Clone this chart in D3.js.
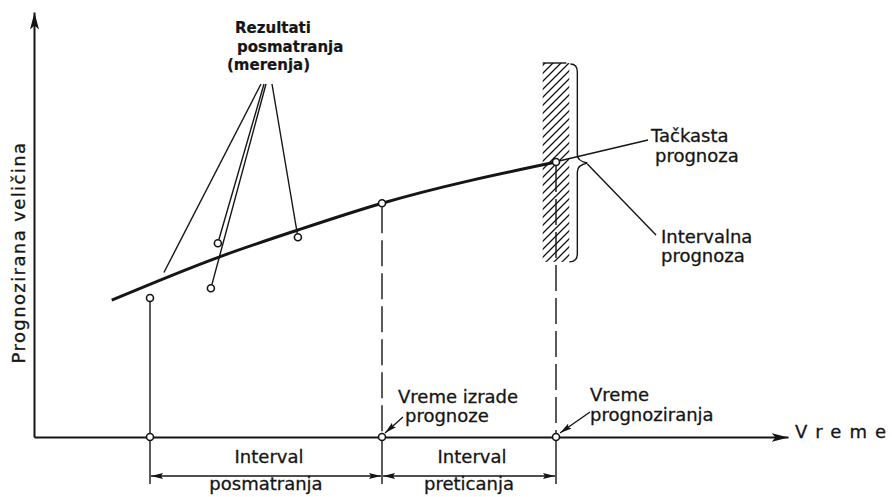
<!DOCTYPE html>
<meta charset="utf-8">
<style>
body { margin: 0; background: #fff; }
text { font-family: "DejaVu Sans", sans-serif; font-size: 18px; fill: #151515; stroke: #151515; stroke-width: 0.3; }
.bold { font-weight: bold; font-size: 15px; stroke-width: 0.2; }
.axis path { stroke: #151515; stroke-width: 2; }
.curve { fill: none; stroke: #151515; stroke-width: 3; }
.thin { fill: none; stroke: #151515; stroke-width: 1.4; }
.dot { fill: #fff; stroke: #151515; stroke-width: 1.6; }
</style>
<svg width="892" height="497"></svg>
<script src="https://cdn.jsdelivr.net/npm/d3@7/dist/d3.min.js"></script>
<script>

// time units: 0 = start of observation, 4 = forecast made, 7 = forecasted moment
var curveTime  = [-0.66, 1.2, 2.55, 4, 7];
var curveValue = [3.22, 4.24, 4.87, 5.5, 6.47];

var obsTime  = [0, 1.05, 1.17, 2.55];
var obsValue = [3.27, 3.5, 4.56, 4.7];

var keyTime = [0, 4, 7];
var bandValue = [4.12, 8.8];   // interval forecast
var bandHalf = 0.23;

// where the "Rezultati posmatranja" pointers go
var pointerTime  = [0.24, 1.17, 1.05, 2.55];
var pointerValue = [3.87, 4.56, 3.5, 4.7];

var intervalNames = [["Interval", "posmatranja"], ["Interval", "preticanja"]];

var svg = d3.select("svg");

var x = d3.scaleLinear().domain([-2, 11]).range([34, 788]);
var y = d3.scaleLinear().domain([0, 10]).range([437, 12]);

var defs = svg.append("defs");
function marker(id, path, w, h, refX) {
  defs.append("marker")
      .attr("id", id)
      .attr("markerUnits", "userSpaceOnUse")
      .attr("viewBox", "0 " + (-h) + " " + w + " " + (2 * h))
      .attr("markerWidth", w).attr("markerHeight", 2 * h)
      .attr("refX", refX).attr("refY", 0)
      .attr("orient", "auto-start-reverse")
    .append("path").attr("d", path).attr("fill", "#151515");
}
marker("big", "M0,-4.5L17,0L0,4.5L4,0Z", 17, 4.5, 17);
marker("small", "M0,-3L12,0L0,3L2,0Z", 12, 3, 12);

defs.append("pattern")
    .attr("id", "hatch")
    .attr("patternUnits", "userSpaceOnUse")
    .attr("width", 8).attr("height", 8)
  .append("path")
    .attr("d", "M-2,2L2,-2M0,8L8,0M6,10L10,6")
    .attr("stroke", "#151515").attr("stroke-width", 1.3);

// axes (no ticks, just the domain line with an arrow)
svg.append("g").attr("class", "axis")
    .attr("transform", "translate(0," + y(0) + ")")
    .call(d3.axisBottom(x).tickValues([]).tickSizeOuter(0))
    .select(".domain").attr("marker-end", "url(#big)");
svg.append("g").attr("class", "axis")
    .attr("transform", "translate(" + x(-2) + ",0)")
    .call(d3.axisLeft(y).tickValues([]).tickSizeOuter(0))
    .select(".domain").attr("marker-end", "url(#big)");

svg.append("text").attr("x", 795).attr("y", 438)
    .attr("textLength", 91).attr("lengthAdjust", "spacing")
    .text("Vreme");
svg.append("text")
    .attr("transform", "translate(25," + ((y(0) + y(10)) / 2 + 28) + ") rotate(-90)")
    .attr("text-anchor", "middle")
    .style("letter-spacing", "1.4px")
    .text("Prognozirana veličina");

// interval forecast band
var bx0 = x(7 - bandHalf), bx1 = x(7 + bandHalf);
var by0 = y(bandValue[1]), by1 = y(bandValue[0]);
svg.append("rect")
    .attr("x", bx0).attr("y", by0)
    .attr("width", bx1 - bx0).attr("height", by1 - by0)
    .attr("fill", "url(#hatch)");
svg.append("line").attr("class", "thin")
    .attr("x1", bx0).attr("x2", bx1 - 3).attr("y1", by0).attr("y2", by0);

// brace
var xb = bx1 + 8, ym = y(6.47);
svg.append("path").attr("class", "thin")
    .attr("d", "M" + (xb - 7) + "," + (by0 + 1) +
      "Q" + xb + "," + (by0 + 1) + " " + xb + "," + (by0 + 9) +
      "L" + xb + "," + (ym - 7) +
      "Q" + xb + "," + (ym - 1) + " " + (xb + 10) + "," + (ym + 1) +
      "Q" + xb + "," + (ym + 3) + " " + xb + "," + (ym + 10) +
      "L" + xb + "," + (by1 - 8) +
      "Q" + xb + "," + by1 + " " + (xb - 8) + "," + by1);

// verticals from the key times
keyTime.forEach(function(t, i) {
  var top = i == 0 ? obsValue[0] : curveValue[curveTime.indexOf(t)];
  svg.append("line").attr("class", "thin")
      .attr("x1", x(t)).attr("x2", x(t))
      .attr("y1", y(top) + 4).attr("y2", y(0))
      .attr("stroke-dasharray", i == 0 ? null : "26,7");
  svg.append("line").attr("class", "thin")
      .attr("x1", x(t)).attr("x2", x(t))
      .attr("y1", y(0)).attr("y2", y(0) + 47);
});

// forecast curve
var line = d3.line()
    .x(function(d) { return x(d[0]); })
    .y(function(d) { return y(d[1]); })
    .curve(d3.curveMonotoneX);
svg.append("path").attr("class", "curve")
    .attr("d", line(d3.zip(curveTime, curveValue)));

// pointers from "Rezultati posmatranja"
var pStart = [[261, 84], [264, 84], [266, 84], [272, 84]];
pointerTime.forEach(function(t, i) {
  var ex = x(t), ey = y(pointerValue[i]);
  var dx = ex - pStart[i][0], dy = ey - pStart[i][1], len = Math.sqrt(dx * dx + dy * dy);
  var cut = i == 0 ? 0 : 3.8;
  svg.append("line").attr("class", "thin")
      .attr("x1", pStart[i][0]).attr("y1", pStart[i][1])
      .attr("x2", ex - dx / len * cut).attr("y2", ey - dy / len * cut);
});

// point forecast / interval forecast pointers
svg.append("line").attr("class", "thin")
    .attr("x1", x(7) + 3).attr("y1", y(6.47) - 1)
    .attr("x2", 648).attr("y2", 140);
svg.append("line").attr("class", "thin")
    .attr("x1", xb + 10).attr("y1", ym + 2)
    .attr("x2", 656).attr("y2", 235);

// observation points
svg.selectAll(".obs")
  .data(d3.zip(obsTime, obsValue))
  .enter().append("circle")
    .attr("class", "dot")
    .attr("cx", function(d) { return x(d[0]); })
    .attr("cy", function(d) { return y(d[1]); })
    .attr("r", 3.5);

// points on curve and on the time axis
svg.selectAll(".cur")
  .data(keyTime.slice(1))
  .enter().append("circle")
    .attr("class", "dot")
    .attr("cx", function(t) { return x(t); })
    .attr("cy", function(t) { return y(curveValue[curveTime.indexOf(t)]); })
    .attr("r", 3.5);
svg.selectAll(".ax")
  .data(keyTime)
  .enter().append("circle")
    .attr("class", "dot")
    .attr("cx", function(t) { return x(t); })
    .attr("cy", y(0))
    .attr("r", 3.5);

// interval arrows below the axis
var ay = y(0) + 39;
intervalNames.forEach(function(names, i) {
  var a = x(keyTime[i]), b = x(keyTime[i + 1]), mid = (a + b) / 2;
  svg.append("line").attr("class", "thin")
      .attr("x1", a + 1).attr("x2", b - 1).attr("y1", ay).attr("y2", ay)
      .attr("marker-start", "url(#small)").attr("marker-end", "url(#small)");
  svg.append("text").attr("x", mid + 3).attr("y", ay - 13)
      .attr("text-anchor", "middle").text(names[0]);
  svg.append("text").attr("x", mid).attr("y", ay + 14)
      .attr("text-anchor", "middle").text(names[1]);
});

// small arrows to the axis points
svg.append("line").attr("class", "thin")
    .attr("x1", 403).attr("y1", 417).attr("x2", x(4) + 3).attr("y2", y(0) - 4)
    .attr("marker-end", "url(#small)");
svg.append("line").attr("class", "thin")
    .attr("x1", 590).attr("y1", 412).attr("x2", x(7) + 4).attr("y2", y(0) - 4)
    .attr("marker-end", "url(#small)");

// labels
function label(lines, x0, y0, dy, cls) {
  lines.forEach(function(s, i) {
    svg.append("text").attr("class", cls || null)
        .attr("x", x0[i]).attr("y", y0 + i * dy).text(s);
  });
}
label(["Rezultati", "posmatranja", "(merenja)"], [235, 237, 227], 33, 18.5, "bold");
label(["Vreme izrade", "prognoze"], [398, 405], 403, 19);
label(["Vreme", "prognoziranja"], [590, 590], 401, 20);
label(["Tačkasta", "prognoza"], [651, 655], 142, 20);
label(["Intervalna", "prognoza"], [661, 661], 243, 19);

</script>
